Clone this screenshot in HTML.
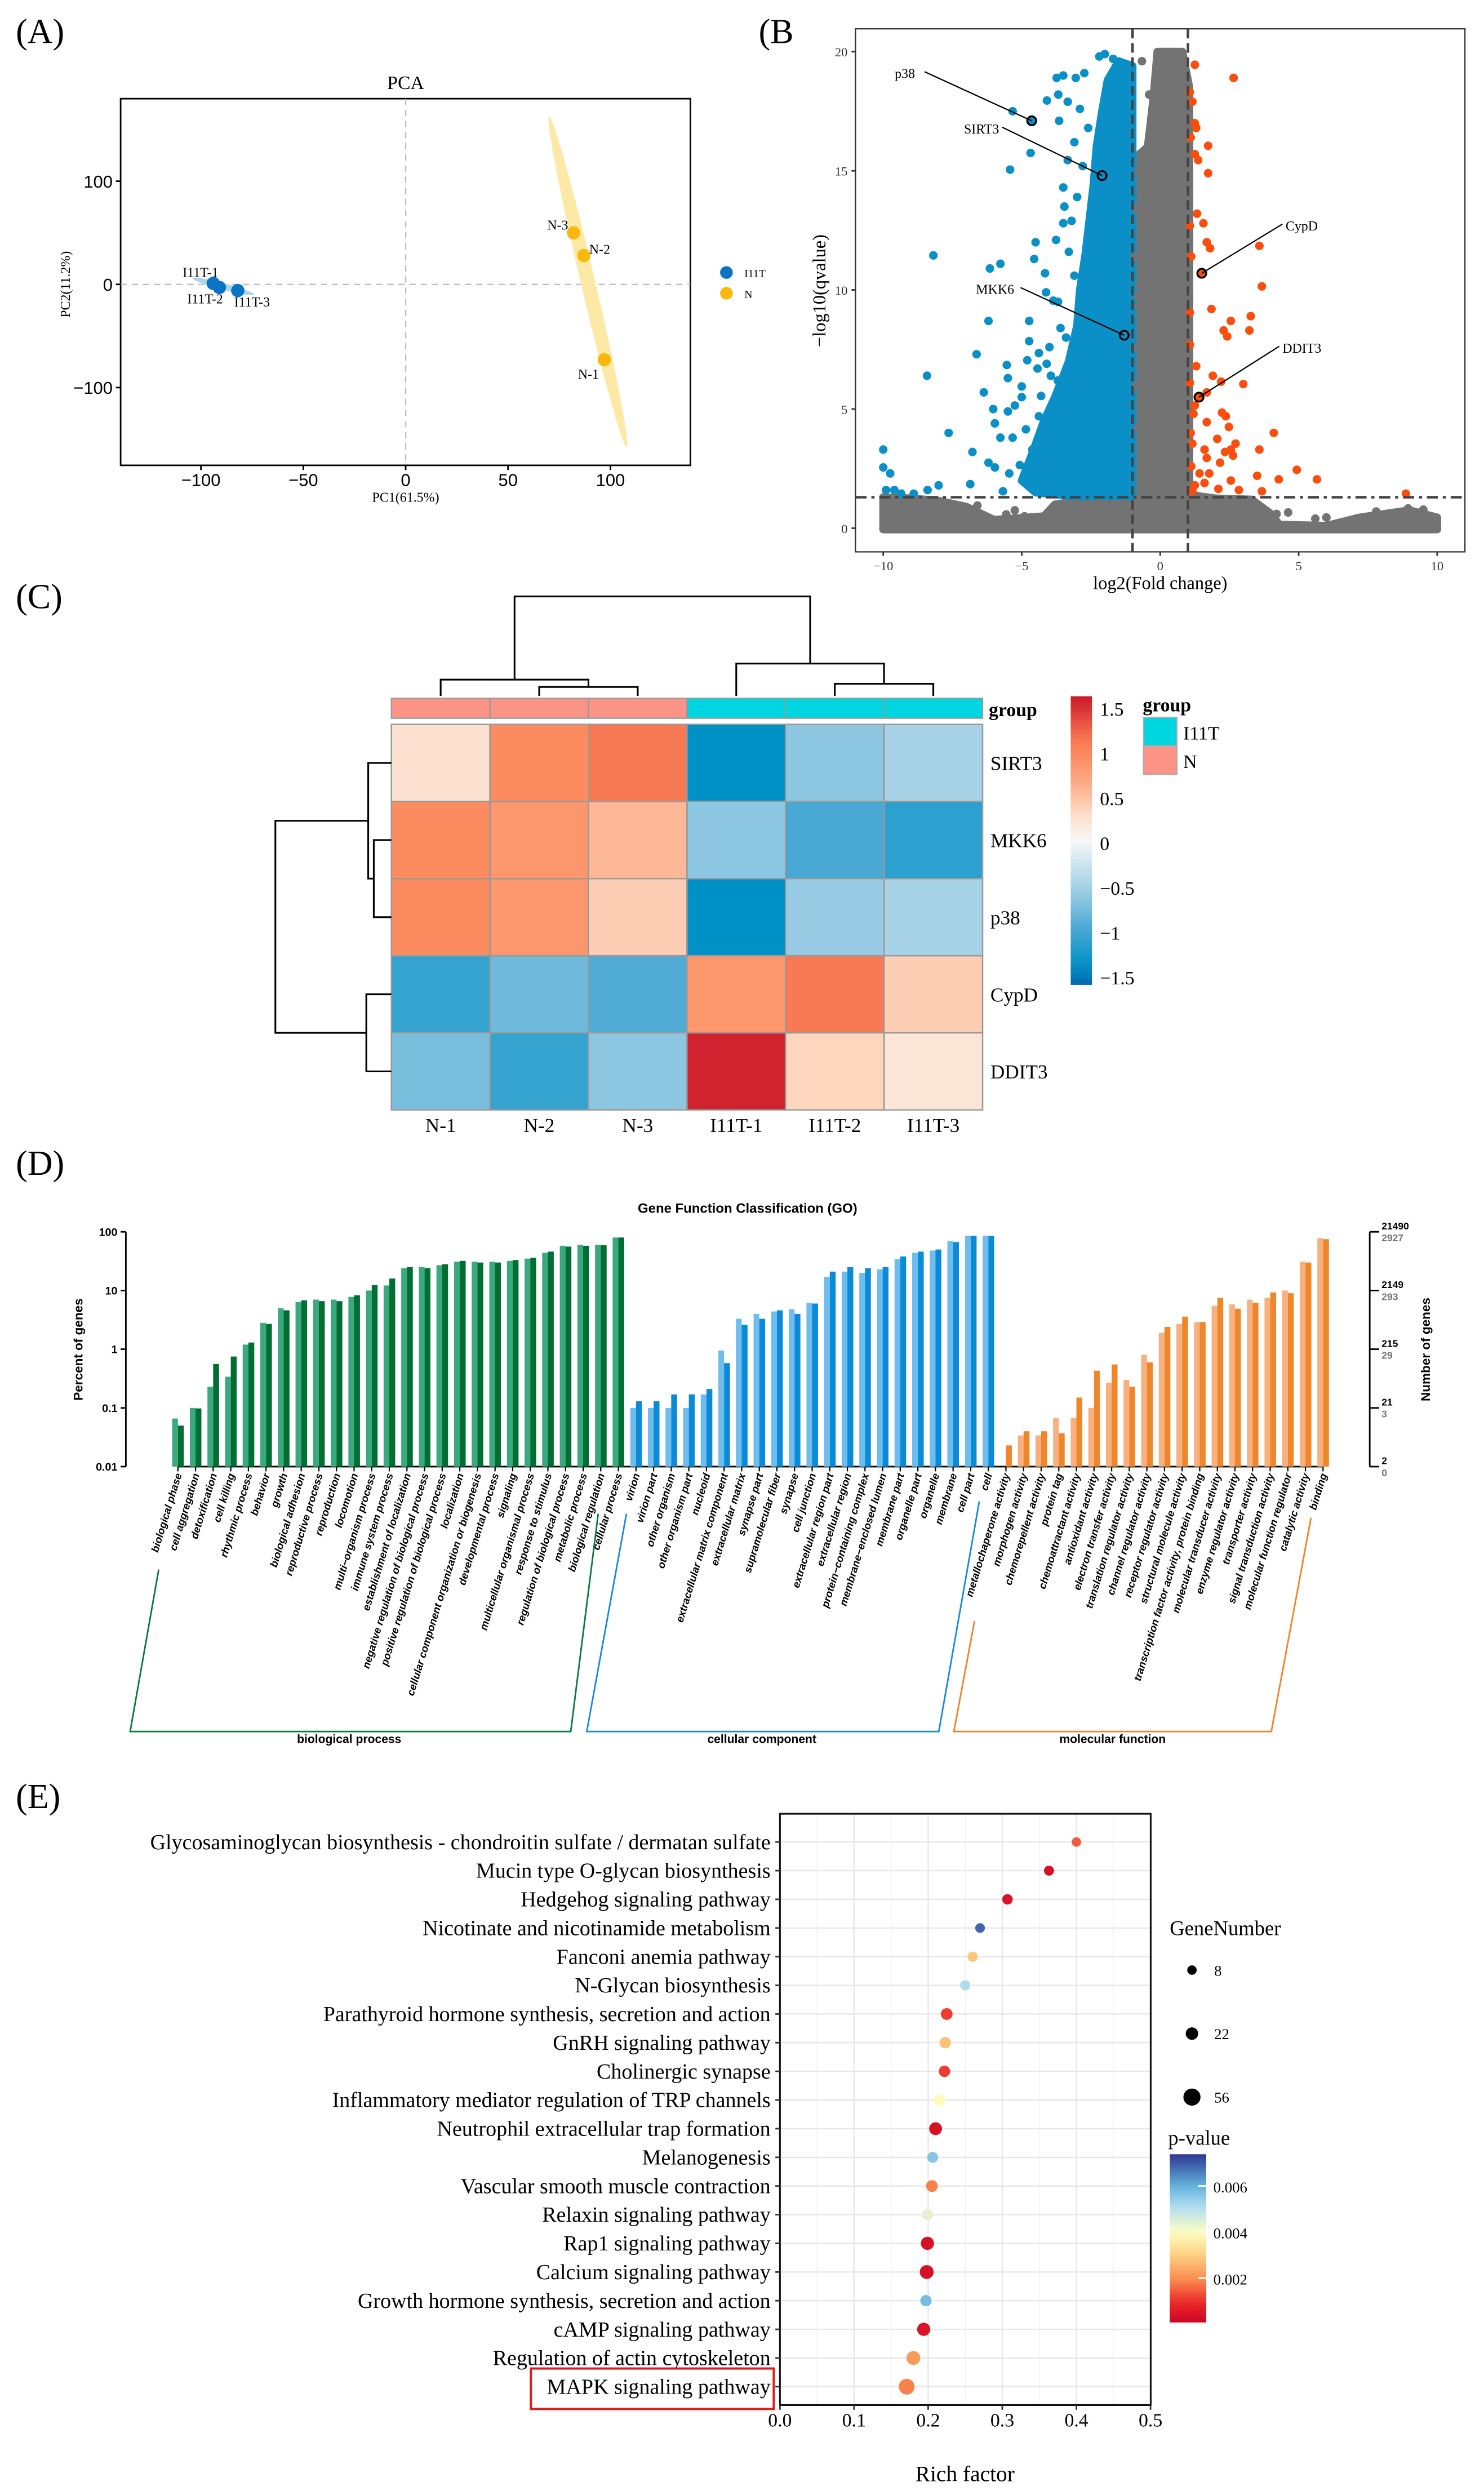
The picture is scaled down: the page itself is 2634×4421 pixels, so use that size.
<!DOCTYPE html>
<html><head><meta charset="utf-8"><style>
html,body{margin:0;padding:0;background:#fff;}
svg{display:block;}
.serif{font-family:"Liberation Serif",serif;}
.sans{font-family:"Liberation Sans",sans-serif;}
</style></head>
<body>
<svg id="fig" xmlns="http://www.w3.org/2000/svg" width="2634" height="4421" viewBox="0 0 935 1569">
<rect x="0" y="0" width="935" height="1569" fill="#fff"/>
<g class="serif" font-size="22" fill="#000">
<text x="10" y="27">(A)</text>
<text x="478" y="27">(B</text>
<text x="10" y="383">(C)</text>
<text x="10" y="740">(D)</text>
<text x="10" y="1139">(E)</text>
</g>
<g id="pca"></g>
<g id="volcano"></g>
<g id="heat"></g>
<g id="go"></g>
<g id="kegg"></g>
</svg>
<script>
const NS="http://www.w3.org/2000/svg";
function el(tag,parent,attrs){const e=document.createElementNS(NS,tag);for(const k in attrs)e.setAttribute(k,attrs[k]);parent.appendChild(e);return e;}
function txt(parent,x,y,s,attrs){const t=el('text',parent,Object.assign({x:x,y:y},attrs||{}));t.textContent=s;return t;}

/* ---------------- PCA ---------------- */
const pcaSamples=["I11T-1","I11T-2","I11T-3","N-3","N-2","N-1"];
const pcaPC1=[-94,-91,-82,82,87,97];
const pcaPC2=[1,-3,-6,50,28,-73];
const pcaGroup=["I11T","I11T","I11T","N","N","N"];
const pcaXTicks=[-100,-50,0,50,100];
const pcaYTicks=[100,0,-100];
const pcaEllN=[[70,163],[108,-158]];
const pcaEllT=[[-104,6],[-74,-10]];
(function(){
const g=document.getElementById('pca');
const px=v=>255.6+v*1.29, py=v=>179-v*0.65;
const col={I11T:"#0a74c4",N:"#fbb80c"};
let t=txt(g,255.6,56,"PCA",{"class":"serif","font-size":12,"text-anchor":"middle"});


let f=el('rect',g,{x:76,y:62,width:359,height:231,fill:"#fff",stroke:"#000","stroke-width":1});


el('line',g,{x1:px(0),x2:px(0),y1:62,y2:293,stroke:"#bbb","stroke-dasharray":"4,3","stroke-width":0.8});
el('line',g,{x1:76,x2:435,y1:py(0),y2:py(0),stroke:"#bbb","stroke-dasharray":"4,3","stroke-width":0.8});
function ell(pts,c,w,name){const x1=px(pts[0][0]),y1=py(pts[0][1]),x2=px(pts[1][0]),y2=py(pts[1][1]);
 const cx=(x1+x2)/2,cy=(y1+y2)/2,L=Math.hypot(x2-x1,y2-y1),a=Math.atan2(y2-y1,x2-x1)*180/Math.PI;
 const e=el('ellipse',g,{cx:cx,cy:cy,rx:L/2,ry:w,fill:c,transform:`rotate(${a} ${cx} ${cy})`});
 
 }
ell(pcaEllN,"#fde9a6",4.5,'n-confidence-ellipse');
ell(pcaEllT,"#a8d4f2",2,'i11t-confidence-ellipse');
const lab={"I11T-1":[-8,-4,"middle"],"I11T-2":[-9,10,"middle"],"I11T-3":[9,10,"middle"],"N-3":[-10,-2,"middle"],"N-2":[10,-1,"middle"],"N-1":[-10,12,"middle"]};
pcaSamples.forEach((s,i)=>{
 const c=el('circle',g,{cx:px(pcaPC1[i]),cy:py(pcaPC2[i]),r:4.2,fill:col[pcaGroup[i]]});
 
 
 const o=lab[s];
 const tt=txt(g,px(pcaPC1[i])+o[0],py(pcaPC2[i])+o[1],s,{"class":"serif","font-size":8.5,"text-anchor":o[2]});
 
 
});
pcaXTicks.forEach(v=>{el('line',g,{x1:px(v),x2:px(v),y1:293,y2:296,stroke:"#000"});
 const tt=txt(g,px(v),306,(v<0?"\u2212":"")+Math.abs(v),{"class":"sans","font-size":11,"text-anchor":"middle"});
 
 });
pcaYTicks.forEach(v=>{el('line',g,{x1:73,x2:76,y1:py(v),y2:py(v),stroke:"#000"});
 const tt=txt(g,71,py(v)+4,(v<0?"\u2212":"")+Math.abs(v),{"class":"sans","font-size":11,"text-anchor":"end"});
 
 });
t=txt(g,255.6,316,"PC1(61.5%)",{"class":"serif","font-size":8.5,"text-anchor":"middle"});


t=txt(g,0,0,"PC2(11.2%)",{"class":"serif","font-size":8.5,"text-anchor":"middle",transform:"translate(44,179) rotate(-90)"});


[["I11T",171.5],["N",184.6]].forEach(d=>{
 const c=el('circle',g,{cx:457.7,cy:d[1],r:4,fill:col[d[0]]});
 
 
 const tt=txt(g,469,d[1]+3,d[0],{"class":"serif","font-size":7});
 
 });
})();

/* ---------------- Volcano ---------------- */
const volXTicks=[-10,-5,0,5,10];
const volYTicks=[0,5,10,15,20];
const volFCThresh=[-1,1];
const volQThresh=1.3;
const volGrayEnvelope=[[-10,-0.05],[10,-0.05],[10,0.45],[9,0.75],[7.2,0.45],[6,0.1],[4.3,0.15],[4,0.6],[3.3,1.2],[2,1.25],[1.05,1.4],[1.05,18.5],[0.8,20],[-0.1,20],[-0.25,18],[-0.45,16],[-0.95,15.5],[-0.95,1.3],[-2,1.3],[-3.8,1.0],[-4.2,0.5],[-6,0.35],[-7,0.9],[-8,1.15],[-9,1.25],[-10,1.3]];
const volBlueEnvelope=[[-1,1.35],[-3.2,1.35],[-4.5,1.5],[-5,2.0],[-4.6,3.2],[-4.2,4.5],[-3.8,5.5],[-3.3,7],[-3.0,8.5],[-2.9,10],[-2.7,11.5],[-2.55,13],[-2.4,14.5],[-2.3,16],[-2.1,17.5],[-1.9,18.8],[-1.5,19.6],[-1.0,19.4]];
const volBluePoints=[[-4.64,17.1],[-5.33,17.5],[-4.68,15.75],[-5.42,15.05],[-8.19,11.45],[-5.77,11.1],[-6.15,10.9],[-4.5,12.0],[-4.55,11.3],[-4.16,10.7],[-8.42,6.4],[-6.63,7.3],[-6.2,8.7],[-6.37,5.7],[-5.54,6.85],[-5.5,6.3],[-5.0,5.95],[-7.64,4.0],[-6.03,5.0],[-5.97,4.4],[-10,3.3],[-10,2.55],[-9.75,2.3],[-6.78,3.2],[-6.2,2.75],[-5.97,2.55],[-9.9,1.6],[-9.6,1.6],[-9.35,1.45],[-8.9,1.45],[-8.4,1.6],[-8.0,1.8],[-6.86,1.85],[-5.68,1.55],[-3.74,18.9],[-3.5,19.0],[-3.05,18.9],[-2.74,19.1],[-3.68,18.2],[-4.09,17.95],[-3.34,17.9],[-3.65,17.1],[-3.34,15.45],[-3.5,14.3],[-3.46,13.5],[-3.5,12.8],[-3.76,12.1],[-3.86,9.55],[-3.69,9.5],[-4.12,9.9],[-4.73,8.7],[-4.73,7.85],[-4.8,7.05],[-4.38,7.35],[-4.43,6.7],[-3.95,6.4],[-5.0,5.5],[-5.5,4.9],[-5.25,5.15],[-5.77,3.8],[-5.33,3.8],[-4.85,4.15],[-4.3,5.55],[-4.38,4.7],[-4.62,3.3],[-5.07,2.65],[-5.45,2.3],[-4.9,2.25],[-2.2,19.8],[-2.0,19.9],[-1.7,19.7],[-2.9,17.6],[-2.6,16.8],[-3.1,16.2],[-2.8,15.2],[-3.0,13.9],[-3.2,12.9],[-3.3,11.6],[-3.1,10.6],[-3.6,8.4],[-3.4,8.0],[-4.0,7.6],[-4.1,6.9],[-3.7,6.2]];
const volRedPoints=[[1.25,19.45],[2.65,18.9],[1.07,18.3],[1.16,17.9],[1.25,17.0],[1.3,16.8],[1.1,16.4],[1.73,16.05],[1.25,15.7],[1.37,15.45],[1.73,14.9],[1.33,13.2],[1.56,12.8],[1.07,12.7],[1.68,12.0],[1.8,11.75],[3.58,11.85],[1.12,11.4],[1.5,10.7],[3.67,10.15],[1.85,9.2],[1.07,9.05],[3.27,8.9],[2.55,8.7],[3.22,8.3],[2.29,8.3],[2.42,8.05],[1.07,7.7],[1.9,6.4],[2.2,6.15],[3.0,6.05],[1.07,6.1],[1.68,5.7],[1.4,5.5],[1.25,5.15],[2.23,4.85],[2.37,4.7],[1.68,4.45],[2.48,4.25],[4.1,4.0],[2.06,3.75],[1.16,3.55],[2.72,3.55],[2.55,3.3],[3.58,3.3],[1.6,3.3],[2.34,3.2],[2.63,3.05],[1.68,2.95],[2.16,2.75],[1.12,2.6],[1.42,2.3],[1.77,2.3],[4.93,2.45],[3.5,2.2],[4.28,2.05],[5.66,2.05],[2.55,2.0],[1.25,1.8],[1.6,1.9],[2.1,1.65],[2.84,1.6],[3.67,1.55],[1.16,1.55],[8.87,1.45],[1.2,4.8],[1.1,4.0],[1.3,6.8]];
const volGrayPoints=[[-0.66,19.6],[-0.4,18.2],[-0.17,17.05],[-0.78,14.95],[-0.7,13.8],[-0.85,13.4],[-0.6,12.4],[-0.7,12.0],[-0.9,11.4],[-0.75,10.2],[-0.8,9.7],[-0.78,9.3],[-0.6,8.6],[-0.8,7.6],[-0.7,6.8],[-0.85,6.0],[-0.6,5.0],[-0.8,4.2],[8.95,0.83],[7.8,0.7],[9.5,0.78],[4.62,0.66],[4.2,0.6],[3.35,1.1],[3.05,0.9],[2.8,0.75],[5.6,0.4],[6.0,0.45],[-6.6,0.95],[-5.56,0.58],[-4.9,0.5],[-5.25,0.75],[-4.03,0.5],[-7.0,0.53]];
const volLabels=["p38","SIRT3","MKK6","CypD","DDIT3"];
const volLabelFC=[-4.64,-2.1,-1.3,1.5,1.4];
const volLabelQ=[17.1,14.8,8.1,10.7,5.5];
const volLabelPos=[[563,49],[607,84],[621,185],[810,145],[808,222]];
(function(){
const g=document.getElementById('volcano');
const vx=v=>731+v*17.45, vy=v=>332.6-v*15.01;
let f=el('rect',g,{x:539,y:18,width:384,height:329.5,fill:"#fff",stroke:"#333","stroke-width":0.8});


function poly(pts,c,name){const p=el('polygon',g,{points:pts.map(d=>vx(d[0])+","+vy(d[1])).join(" "),fill:c,stroke:c,"stroke-width":5,"stroke-linejoin":"round"});
 
 }
poly(volGrayEnvelope,"#737373",'nonsignificant-gene-cloud');
poly(volBlueEnvelope,"#0a90c6",'downregulated-gene-cloud');
function pts(arr,c,name){arr.forEach(d=>{const p=el('circle',g,{cx:vx(d[0]),cy:vy(d[1]),r:2.7,fill:c});
 
 });}
pts(volGrayPoints,"#737373",'nonsignificant-gene-point');
pts(volBluePoints,"#0a90c6",'downregulated-gene-point');
pts(volRedPoints,"#fa4e0e",'upregulated-gene-point');
volFCThresh.forEach(v=>{const l=el('line',g,{x1:vx(v),x2:vx(v),y1:18,y2:347.5,stroke:"#444","stroke-width":1.6,"stroke-dasharray":"6,3"});
 
 });
let l=el('line',g,{x1:539,x2:923,y1:vy(volQThresh),y2:vy(volQThresh),stroke:"#444","stroke-width":1.6,"stroke-dasharray":"7,3,2,3"});


volLabels.forEach((s,i)=>{const x=vx(volLabelFC[i]),y=vy(volLabelQ[i]);const lp=volLabelPos[i];
 const right=volLabelFC[i]>0;
 el('line',g,{x1:right?lp[0]-2:lp[0]+12+s.length*2.5,y1:lp[1]-4,x2:x,y2:y,stroke:"#000","stroke-width":0.8});
 const c=el('circle',g,{cx:x,cy:y,r:2.8,fill:"none",stroke:"#000","stroke-width":1.2});
 
 
 const t=txt(g,lp[0],lp[1],s,{"class":"serif","font-size":8.5,"text-anchor":right?"start":"end"});
 if(!right){t.setAttribute('x',lp[0]+s.length*4.5);}
 
 });
volXTicks.forEach(v=>{el('line',g,{x1:vx(v),x2:vx(v),y1:347.5,y2:350,stroke:"#333"});
 const t=txt(g,vx(v),359,(v<0?"\u2212":"")+Math.abs(v),{"class":"serif","font-size":8,"text-anchor":"middle","fill":"#333"});
 
 });
volYTicks.forEach(v=>{el('line',g,{x1:536.5,x2:539,y1:vy(v),y2:vy(v),stroke:"#333"});
 const t=txt(g,534,vy(v)+3,String(v),{"class":"serif","font-size":8,"text-anchor":"end","fill":"#333"});
 
 });
let t=txt(g,731,371,"log2(Fold change)",{"class":"serif","font-size":11.5,"text-anchor":"middle"});


t=txt(g,0,0,"\u2212log10(qvalue)",{"class":"serif","font-size":11.5,"text-anchor":"middle",transform:"translate(520,183) rotate(-90)"});


})();

/* ---------------- Heatmap ---------------- */
const hmCols=["N-1","N-2","N-3","I11T-1","I11T-2","I11T-3"];
const hmRows=["SIRT3","MKK6","p38","CypD","DDIT3"];
const hmSIRT3=[0.25,0.95,1.1,-1.4,-0.65,-0.5];
const hmMKK6=[0.95,0.85,0.55,-0.65,-1.0,-1.15];
const hmP38=[0.95,0.85,0.4,-1.4,-0.6,-0.5];
const hmCypD=[-1.1,-0.8,-0.95,0.85,1.1,0.4];
const hmDDIT3=[-0.75,-1.1,-0.65,1.55,0.35,0.2];
const hmGroups=["N","N","N","I11T","I11T","I11T"];
const hmScaleTicks=[1.5,1,0.5,0,-0.5,-1,-1.5];
(function(){
const g=document.getElementById('heat');
const vals=[hmSIRT3,hmMKK6,hmP38,hmCypD,hmDDIT3];
const X0=246.6,Y0=456.2,CW=62.08,RH=48.58;
const stops=[[-1.6,[5,103,176]],[-1.4,[0,146,199]],[-1.0,[70,168,211]],[-0.6,[152,203,227]],[-0.3,[200,226,238]],[0,[247,247,247]],[0.3,[253,221,200]],[0.6,[252,176,141]],[0.95,[252,140,96]],[1.2,[245,110,78]],[1.6,[203,24,42]]];
function color(v){for(let i=0;i<stops.length-1;i++){const a=stops[i],b=stops[i+1];if(v<=b[0]||i==stops.length-2){let t=Math.max(0,Math.min(1,(v-a[0])/(b[0]-a[0])));return "rgb("+a[1].map((c,k)=>Math.round(c+(b[1][k]-c)*t)).join(",")+")";}}}
const gc={N:"#fb9486",I11T:"#00d6e0"};
hmGroups.forEach((gr,j)=>{const r=el('rect',g,{x:X0+j*CW,y:439.8,width:CW,height:12.5,fill:gc[gr],stroke:"#999","stroke-width":0.8});
 
 });
vals.forEach((row,i)=>row.forEach((v,j)=>{const r=el('rect',g,{x:X0+j*CW,y:Y0+i*RH,width:CW,height:RH,fill:color(v),stroke:"#9a9a9a","stroke-width":0.9});
 
 }));
hmRows.forEach((s,i)=>{const t=txt(g,624,Y0+i*RH+RH/2+4.5,s,{"class":"serif","font-size":12.5});
 
 });
hmCols.forEach((s,j)=>{const t=txt(g,X0+j*CW+CW/2,713,s,{"class":"serif","font-size":12.5,"text-anchor":"middle"});
 
 });
let t=txt(g,623,451,"group",{"class":"serif","font-size":12,"font-weight":"bold"});


const cx=j=>X0+j*CW+CW/2, ry=i=>Y0+i*RH+RH/2;
const dg=el('g',g,{stroke:"#000","stroke-width":1.1,fill:"none"});


const L=438.3;
const colPaths=[`M${cx(1)},${L}V432.6H${cx(2)}V${L}`,`M${cx(0)},${L}V428H${(cx(1)+cx(2))/2}V432.6`,`M${cx(4)},${L}V430.6H${cx(5)}V${L}`,`M${cx(3)},${L}V417.9H${(cx(4)+cx(5))/2}V430.6`,`M${(cx(0)+(cx(1)+cx(2))/2)/2},428V375.6H${(cx(3)+(cx(4)+cx(5))/2)/2}V417.9`];
colPaths.forEach(d=>el('path',dg,{d:d}));
const rg=el('g',g,{stroke:"#000","stroke-width":1.1,fill:"none"});


const R=246.6;
[`M${R},${ry(1)}H235.5V${ry(2)}H${R}`,`M${R},${ry(0)}H232V${(ry(1)+ry(2))/2}H235.5`,`M${R},${ry(3)}H230.8V${ry(4)}H${R}`,`M232,${(ry(0)+(ry(1)+ry(2))/2)/2}H173.5V${(ry(3)+ry(4))/2}H230.8`].forEach(d=>el('path',rg,{d:d}));
const defs=el('defs',g,{});
const lg=el('linearGradient',defs,{id:"hmgrad",x1:0,y1:1,x2:0,y2:0});
for(let k=0;k<=20;k++){const v=-1.62+3.24*k/20;el('stop',lg,{offset:k/20,"stop-color":color(v)});}
const cb=el('rect',g,{x:674.6,y:438.5,width:13.4,height:181.8,fill:"url(#hmgrad)"});


const sy=v=>530.8-v*56.4;
hmScaleTicks.forEach(v=>{const t=txt(g,693,sy(v)+4.5,(v<0?"\u2212":"")+Math.abs(v),{"class":"serif","font-size":12});
 
 });
t=txt(g,720,448,"group",{"class":"serif","font-size":12,"font-weight":"bold"});


[["I11T",451.8,gc.I11T],["N",469.7,gc.N]].forEach(d=>{const r=el('rect',g,{x:720.5,y:d[1],width:21,height:18,fill:d[2],stroke:"#aaa","stroke-width":0.8});
 
 
 const tt=txt(g,745.5,d[1]+14,d[0],{"class":"serif","font-size":12});
 
 });
})();

/* ---------------- GO chart ---------------- */
const goBP=["biological phase","cell aggregation","detoxification","cell killing","rhythmic process","behavior","growth","biological adhesion","reproductive process","reproduction","locomotion","multi\u2212organism process","immune system process","establishment of localization","negative regulation of biological process","positive regulation of biological process","localization","cellular component organization or biogenesis","developmental process","signaling","multicellular organismal process","response to stimulus","regulation of biological process","metabolic process","biological regulation","cellular process"];
const goBPLight=[0.066,0.1,0.23,0.34,1.2,2.8,5.0,6.4,7.0,7.0,7.8,10,12.2,24,25,27,31,31,31,32,35,44,58,60,60,80];
const goBPDark=[0.05,0.098,0.56,0.75,1.3,2.7,4.6,6.8,6.6,6.6,8.3,12.3,16,25,24,28,32,30,30,33,36,46,56,58,59,80];
const goCC=["virion","virion part","other organism","other organism part","nucleoid","extracellular matrix component","extracellular matrix","synapse part","supramolecular fiber","synapse","cell junction","extracellular region part","extracellular region","protein\u2212containing complex","membrane\u2212enclosed lumen","membrane part","organelle part","organelle","membrane","cell part","cell"];
const goCCLight=[0.1,0.1,0.1,0.1,0.17,0.95,3.3,4.0,4.4,4.8,6.2,17,21,20,23,34,44,48,70,86,86];
const goCCDark=[0.13,0.13,0.17,0.17,0.21,0.58,2.6,3.3,4.6,4.0,6.0,21,25,24,25,38,46,50,67,85,85];
const goMF=["metallochaperone activity","morphogen activity","chemorepellent activity","protein tag","chemoattractant activity","antioxidant activity","electron transfer activity","translation regulator activity","channel regulator activity","receptor regulator activity","structural molecule activity","transcription factor activity, protein binding","molecular transducer activity","enzyme regulator activity","transporter activity","signal transduction activity","molecular function regulator","catalytic activity","binding"];
const goMFLight=[0,0.034,0.034,0.067,0.067,0.1,0.27,0.3,0.8,1.9,2.7,2.9,5.5,5.8,7.0,7.5,10,31,78];
const goMFDark=[0.023,0.04,0.04,0.037,0.15,0.43,0.55,0.23,0.6,2.4,3.6,2.9,7.5,4.9,6.2,9.3,9,30,75];
const goLeftTicks=[100,10,1,0.1,0.01];
const goRightTop=["21490","2149","215","21","2"];
const goRightBottom=["2927","293","29","3","0"];
(function(){
const g=document.getElementById('go');
const gy=v=>923.8-(Math.log10(v)+2)*36.98;
const base=923.8, step=11.1, x0=112.1;
let t=txt(g,471,764,"Gene Function Classification (GO)",{"class":"sans","font-size":8.5,"font-weight":"bold","text-anchor":"middle"});


const ax=el('line',g,{x1:79.3,x2:79.3,y1:775.9,y2:base,stroke:"#000","stroke-width":1});


goLeftTicks.forEach(v=>{el('line',g,{x1:76,x2:79.3,y1:gy(v),y2:gy(v),stroke:"#000"});
 const tt=txt(g,74,gy(v)+2.5,String(v),{"class":"sans","font-size":7,"font-weight":"bold","text-anchor":"end"});
 
 });
t=txt(g,0,0,"Percent of genes",{"class":"sans","font-size":8,"font-weight":"bold","text-anchor":"middle",transform:"translate(52,850) rotate(-90)"});


const rx=el('line',g,{x1:863,x2:863,y1:775.9,y2:base,stroke:"#000","stroke-width":1});


goLeftTicks.forEach((v,i)=>{el('line',g,{x1:863,x2:869,y1:gy(v),y2:gy(v),stroke:"#000"});
 const a=txt(g,870.5,gy(v)-1.5,goRightTop[i],{"class":"sans","font-size":6.2,"font-weight":"bold"});
 
 
 const b=txt(g,870.5,gy(v)+6,goRightBottom[i],{"class":"sans","font-size":6.2,"font-weight":"bold",fill:"#777"});
 
 });
t=txt(g,0,0,"Number of genes",{"class":"sans","font-size":8,"font-weight":"bold","text-anchor":"middle",transform:"translate(901,850) rotate(-90)"});


const groups=[[goBP,goBPLight,goBPDark,"#3aa97f","#006f31","bp"],[goCC,goCCLight,goCCDark,"#6dbdee","#0b8ad8","cc"],[goMF,goMFLight,goMFDark,"#f8b07f","#f0862a","mf"]];
let idx=0;
const bl=el('line',g,{x1:x0,x2:x0+65*step,y1:base,y2:base,stroke:"#000","stroke-width":1});


groups.forEach(gr=>{gr[0].forEach((name,k)=>{const cx=x0+idx*step;
 if(gr[1][k]>0){const r=el('rect',g,{x:cx-3.6,y:gy(gr[1][k]),width:3.6,height:base-gy(gr[1][k]),fill:gr[3]});
  
  }
 const r2=el('rect',g,{x:cx,y:gy(gr[2][k]),width:3.7,height:base-gy(gr[2][k]),fill:gr[4]});
 
 
 el('line',g,{x1:cx,x2:cx,y1:base,y2:base+3,stroke:"#000","stroke-width":0.8});
 const tt=txt(g,0,0,name,{"class":"sans","font-size":6.6,"font-weight":"bold","font-style":"italic","text-anchor":"end",transform:`translate(${cx+2.5},${base+5}) rotate(-73)`});
 
 
 idx++;});});
const brackets=[["#0b7a3b","M100,988.6L82,1090.7H359.6L376.9,953.5","biological process",220,"bp"],["#1a8ad6","M394.7,953.5L369.7,1090.7H591.5L617,945.7","cellular component",480,"cc"],["#f08328","M614,1021L601,1090.7H801L826,956","molecular function",701,"mf"]];
brackets.forEach(b=>{const p=el('path',g,{d:b[1],fill:"none",stroke:b[0],"stroke-width":1});
 
 
 const tt=txt(g,b[3],1098,b[2],{"class":"sans","font-size":7.5,"font-weight":"bold","text-anchor":"middle"});
 
 });
})();

/* ---------------- KEGG bubble ---------------- */
const keggPathways=["Glycosaminoglycan biosynthesis - chondroitin sulfate / dermatan sulfate","Mucin type O-glycan biosynthesis","Hedgehog signaling pathway","Nicotinate and nicotinamide metabolism","Fanconi anemia pathway","N-Glycan biosynthesis","Parathyroid hormone synthesis, secretion and action","GnRH signaling pathway","Cholinergic synapse","Inflammatory mediator regulation of TRP channels","Neutrophil extracellular trap formation","Melanogenesis","Vascular smooth muscle contraction","Relaxin signaling pathway","Rap1 signaling pathway","Calcium signaling pathway","Growth hormone synthesis, secretion and action","cAMP signaling pathway","Regulation of actin cytoskeleton","MAPK signaling pathway"];
const keggRich=[0.40,0.363,0.307,0.27,0.26,0.25,0.225,0.223,0.222,0.215,0.21,0.206,0.205,0.199,0.199,0.198,0.197,0.194,0.18,0.171];
const keggGenes=[8,10,12,9,11,11,18,16,16,16,24,14,18,16,26,30,16,26,30,45];
const keggP=[0.0015,0.0004,0.0005,0.0069,0.0029,0.0051,0.0012,0.0028,0.0012,0.0039,0.0004,0.0056,0.0019,0.0044,0.0004,0.0004,0.0058,0.0005,0.0022,0.0019];
const keggXTicks=[0,0.1,0.2,0.3,0.4,0.5];
const keggSizeLegend=[8,22,56];
const keggColorTicks=[0.006,0.004,0.002];
(function(){
const g=document.getElementById('kegg');
const ex=v=>491.4+v*467, ey=i=>1160.3+i*18.06;
const rr=n=>1.5+0.52*Math.sqrt(n);
const cst=[[0,[200,0,35]],[0.001,[235,40,40]],[0.002,[250,140,80]],[0.003,[254,205,130]],[0.004,[255,255,190]],[0.005,[185,225,240]],[0.006,[100,180,220]],[0.0074,[45,55,145]]];
function pc(v){for(let i=0;i<cst.length-1;i++){const a=cst[i],b=cst[i+1];if(v<=b[0]||i==cst.length-2){let t=Math.max(0,Math.min(1,(v-a[0])/(b[0]-a[0])));return "rgb("+a[1].map((c,k)=>Math.round(c+(b[1][k]-c)*t)).join(",")+")";}}}
for(let v=0;v<=0.5001;v+=0.05){el('line',g,{x1:ex(v),x2:ex(v),y1:1142.5,y2:1515,stroke:Math.round(v*100)%10==0?"#e6e6e6":"#f3f3f3","stroke-width":Math.round(v*100)%10==0?0.8:0.6});}
keggPathways.forEach((p,i)=>el('line',g,{x1:491.4,x2:725,y1:ey(i),y2:ey(i),stroke:"#e6e6e6","stroke-width":0.8}));
const fr=el('path',g,{d:"M491.4,1515V1142.5H725V1515H491.4",fill:"none",stroke:"#111","stroke-width":1.1});


keggPathways.forEach((p,i)=>{el('line',g,{x1:488.5,x2:491.4,y1:ey(i),y2:ey(i),stroke:"#333"});
 const t=txt(g,485.5,ey(i)+4.5,p,{"class":"serif","font-size":13.5,"text-anchor":"end"});
 
 
 const c=el('circle',g,{cx:ex(keggRich[i]),cy:ey(i),r:rr(keggGenes[i]),fill:pc(keggP[i])});
 
 });
const box=el('rect',g,{x:334.5,y:1492,width:153,height:25.5,fill:"none",stroke:"#e31a1c","stroke-width":1.4});


keggXTicks.forEach(v=>{el('line',g,{x1:ex(v),x2:ex(v),y1:1515,y2:1518,stroke:"#333"});
 const t=txt(g,ex(v),1528.5,v.toFixed(1),{"class":"serif","font-size":12,"text-anchor":"middle"});
 
 });
let t=txt(g,608,1563,"Rich factor",{"class":"serif","font-size":14,"text-anchor":"middle"});


t=txt(g,737,1219,"GeneNumber",{"class":"serif","font-size":13});


keggSizeLegend.forEach((n,k)=>{const y=[1241,1281,1321][k];
 const c=el('circle',g,{cx:751,cy:y,r:rr(n),fill:"#000"});
 
 
 const tt=txt(g,765,y+3.5,String(n),{"class":"serif","font-size":9.5});
 
 });
t=txt(g,736,1351,"p-value",{"class":"serif","font-size":13});


const defs=el('defs',g,{});
const lg=el('linearGradient',defs,{id:"pgrad",x1:0,y1:1,x2:0,y2:0});
for(let k=0;k<=20;k++){const v=0.00014+(0.00738-0.00014)*k/20;el('stop',lg,{offset:k/20,"stop-color":pc(v)});}
const cb=el('rect',g,{x:737,y:1357,width:23,height:106,fill:"url(#pgrad)"});


const cy=v=>1464-v*14500;
keggColorTicks.forEach(v=>{el('line',g,{x1:755,x2:760,y1:cy(v),y2:cy(v),stroke:"#fff"});
 const tt=txt(g,764.5,cy(v)+4,v.toFixed(3),{"class":"serif","font-size":9.5});
 
 });
})();
</script>
</body></html>
